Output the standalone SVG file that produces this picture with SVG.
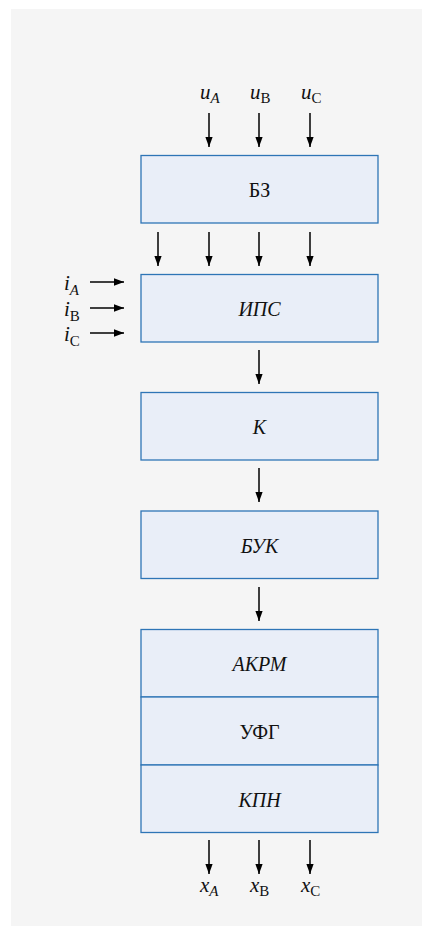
<svg xmlns="http://www.w3.org/2000/svg" width="422" height="936" viewBox="0 0 422 936">
<style>
.box{fill:#e9eef8;stroke:#2e75b6;stroke-width:1.3}
.lbl{font-family:"Liberation Serif","DejaVu Serif",serif;font-size:20px;fill:#111;text-anchor:middle}
.it{font-style:italic}
.var{font-family:"Liberation Serif","DejaVu Serif",serif;font-style:italic;font-size:21px;fill:#111}
.sub{font-size:15px}
.up{font-style:normal}
.arr{stroke:#000;stroke-width:1.5;fill:none;marker-end:url(#ah)}
</style>
<defs>
<marker id="ah" markerUnits="userSpaceOnUse" markerWidth="10" markerHeight="11" viewBox="0 0 11 10" refX="11" refY="5" orient="auto">
<path d="M0,1 L11,5 L0,9 Z" fill="#000"/>
</marker>
</defs>
<rect x="11" y="9" width="411" height="917" fill="#f5f5f5"/>
<g id="connectors">
<line class="arr" x1="209" y1="113" x2="209" y2="147"/>
<line class="arr" x1="259" y1="113" x2="259" y2="147"/>
<line class="arr" x1="310" y1="113" x2="310" y2="147"/>
<line class="arr" x1="158" y1="232" x2="158" y2="266"/>
<line class="arr" x1="209" y1="232" x2="209" y2="266"/>
<line class="arr" x1="259" y1="232" x2="259" y2="266"/>
<line class="arr" x1="310" y1="232" x2="310" y2="266"/>
<line class="arr" x1="90" y1="282" x2="124" y2="282"/>
<line class="arr" x1="90" y1="308" x2="124" y2="308"/>
<line class="arr" x1="90" y1="333" x2="124" y2="333"/>
<line class="arr" x1="259" y1="350" x2="259" y2="384"/>
<line class="arr" x1="259" y1="468" x2="259" y2="502"/>
<line class="arr" x1="259" y1="587" x2="259" y2="621"/>
<line class="arr" x1="209" y1="840" x2="209" y2="874"/>
<line class="arr" x1="259" y1="840" x2="259" y2="874"/>
<line class="arr" x1="310" y1="840" x2="310" y2="874"/>
</g>
<g id="inputs-u">
<text class="var" x="200" y="99">u<tspan class="sub" dy="4">A</tspan></text>
<text class="var" x="250" y="99">u<tspan class="sub up" dy="4">B</tspan></text>
<text class="var" x="301" y="99">u<tspan class="sub up" dy="4">C</tspan></text>
</g>
<g id="inputs-i">
<text class="var" x="64" y="290">i<tspan class="sub" dy="5">A</tspan></text>
<text class="var" x="64" y="316">i<tspan class="sub up" dy="5">B</tspan></text>
<text class="var" x="64" y="341">i<tspan class="sub up" dy="5">C</tspan></text>
</g>
<g id="outputs-x">
<text class="var" x="200" y="892">x<tspan class="sub" dy="4">A</tspan></text>
<text class="var" x="250" y="892">x<tspan class="sub up" dy="4">B</tspan></text>
<text class="var" x="301" y="892">x<tspan class="sub up" dy="4">C</tspan></text>
</g>
<g id="node-bz">
<rect class="box" x="141" y="155.5" width="237" height="67.5"/>
<text class="lbl" x="259.5" y="197">БЗ</text>
</g>
<g id="node-ips">
<rect class="box" x="141" y="274.5" width="237" height="67.5"/>
<text class="lbl it" x="259.5" y="316">ИПС</text>
</g>
<g id="node-k">
<rect class="box" x="141" y="392.5" width="237" height="67.5"/>
<text class="lbl it" x="259.5" y="434">К</text>
</g>
<g id="node-buk">
<rect class="box" x="141" y="511" width="237" height="67.5"/>
<text class="lbl it" x="259.5" y="553">БУК</text>
</g>
<g id="node-akrm">
<rect class="box" x="141" y="629.5" width="237" height="67.5"/>
<text class="lbl it" x="259.5" y="671">АКРМ</text>
</g>
<g id="node-ufg">
<rect class="box" x="141" y="697" width="237" height="68"/>
<text class="lbl" x="259.5" y="739">УФГ</text>
</g>
<g id="node-kpn">
<rect class="box" x="141" y="765" width="237" height="67.5"/>
<text class="lbl it" x="259.5" y="807">КПН</text>
</g>
</svg>
